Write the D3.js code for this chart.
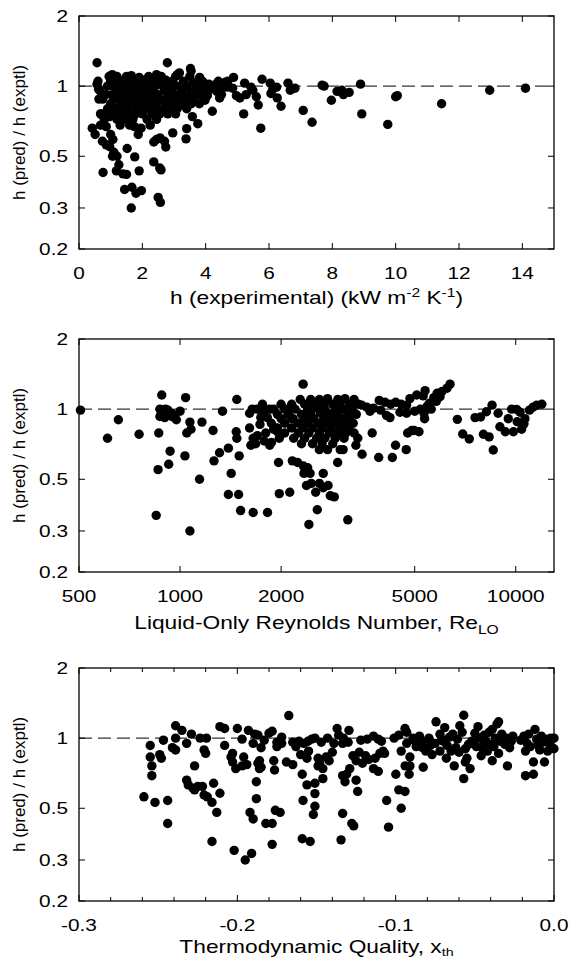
<!DOCTYPE html>
<meta charset="utf-8">
<head>
<style>
body { margin: 0; background: #fff; }
text { font-family: "Liberation Sans", Arial, sans-serif; fill: #000; }
.frame { fill: none; stroke: #000; stroke-width: 1.3px; }
.tick { stroke: #000; stroke-width: 1px; }
.unity { stroke: #333; stroke-width: 1.3px; stroke-dasharray: 13,6; }
</style>
</head>
<body>
<svg width="574" height="960"></svg>
<script src="https://cdn.jsdelivr.net/npm/d3@7"></script>
<script>
var ratioTicks = [0.2, 0.3, 0.5, 1, 2];
var hExpTicks = [0, 2, 4, 6, 8, 10, 12, 14];
var reTicks = [500, 1000, 2000, 5000, 10000];
var xthTicks = [-0.3, -0.2, -0.1, 0.0];
var xthMinor = [-0.28, -0.26, -0.24, -0.22, -0.18, -0.16, -0.14, -0.12, -0.08, -0.06, -0.04, -0.02];

// h (experimental), ratio
var hExp = [
  [0.57,1.26],[14.1,0.98],[12.97,0.96],[11.45,0.84],[10.0,0.90],[10.05,0.91],[9.75,0.685],[8.93,0.76],[8.89,1.02],
  [8.53,0.94],[8.35,0.92],[8.3,0.96],[8.15,0.95],[7.97,0.87],[7.68,1.01],[7.74,1.0],[7.36,0.70],[7.08,0.787],
  [6.82,0.98],[6.67,0.96],[6.6,1.03],[6.38,0.82],[6.26,0.89],[6.24,0.99],[6.06,0.93],[6.12,0.97],[6.04,1.03],
  [5.78,1.07],[5.74,0.66],[5.66,0.83],[5.6,0.9],[5.49,0.96],[5.43,0.99],[5.23,1.03],[5.2,0.76],[5.28,0.92],
  [5.08,0.89],[4.97,0.91],[4.88,1.09],[4.85,0.98],[4.68,0.99],[4.62,1.04],[4.44,0.89],[4.42,0.98],[4.27,0.99],
  [4.33,1.02],[4.21,0.78],[4.1,1.02],[4.04,0.92],[3.98,0.87],[3.81,1.09],[3.75,0.69],[3.58,0.74],[3.52,1.19],
  [3.54,1.16],[3.4,0.657],[3.38,0.594],[3.11,1.12],[3.17,1.14],[2.96,0.63],[2.79,1.26],[2.74,0.548],[2.56,0.60],
  [2.59,0.437],[2.55,0.445],[2.5,0.333],[2.57,0.317],[2.36,0.576],[2.36,0.473],[2.25,0.68],[1.96,0.66],[1.87,0.62],
  [1.9,0.433],[1.76,0.497],[1.67,0.368],[1.8,0.347],[1.97,0.356],[1.44,0.36],[1.65,0.30],[1.52,0.54],[1.5,0.418],
  [1.39,0.42],[1.18,0.433],[0.76,0.426],[1.26,0.46],[1.2,0.5],[1.06,0.5],[1.1,0.52],[0.97,0.55],[0.86,0.56],
  [0.74,0.58],[0.51,0.62],[0.42,0.66],[0.68,0.68],[0.74,0.75],[0.68,0.76],[0.97,0.74],[0.86,0.67],[1.0,0.62],
  [1.07,0.59],[0.57,1.02],[0.62,0.97],[0.63,0.88],[2.7,0.58],[2.45,0.59],
  [0.95,1.1],[1.05,1.12],[1.2,1.1],[1.5,1.1],[1.65,1.11],[1.9,1.09],[2.2,1.1],[2.45,1.12],[2.6,1.1],[3.05,1.1],[3.5,1.1],
  [0.6,1.05],[1.0,1.05],[1.15,1.06],[1.35,1.05],[1.7,1.05],[1.85,1.04],[2.05,1.06],[2.3,1.05],[2.55,1.05],[2.75,1.06],
  [2.95,1.05],[3.3,1.05],[3.6,1.04],[3.9,1.05],[4.4,1.05],[4.7,1.05],
  [0.9,1.0],[1.1,1.0],[1.3,1.0],[1.55,1.01],[1.75,1.0],[2.0,1.0],[2.2,1.01],[2.4,1.0],[2.65,1.0],[2.85,1.01],
  [3.1,1.0],[3.4,1.0],[3.7,1.0],[4.0,1.0],[4.25,1.0],[4.55,1.0],
  [0.65,0.96],[1.2,0.96],[1.45,0.96],[1.6,0.95],[1.95,0.96],[2.15,0.96],[2.35,0.95],[2.7,0.96],[2.9,0.96],
  [3.25,0.96],[3.55,0.95],[3.85,0.96],[4.1,0.96],[4.35,0.95],
  [0.72,0.92],[0.85,0.92],[1.05,0.92],[1.25,0.91],[1.5,0.92],[1.8,0.92],[2.05,0.91],[2.3,0.92],[2.5,0.92],
  [2.8,0.91],[3.0,0.92],[3.2,0.92],[3.45,0.91],[3.75,0.92],[4.05,0.91],[4.5,0.92],
  [0.75,0.88],[1.1,0.88],[1.4,0.88],[1.65,0.87],[1.9,0.88],[2.1,0.88],[2.4,0.88],[2.6,0.87],[2.9,0.88],
  [3.15,0.88],[3.35,0.87],[3.6,0.88],[3.95,0.88],
  [1.0,0.84],[1.3,0.84],[1.55,0.84],[1.8,0.84],[2.0,0.83],[2.25,0.84],[2.45,0.84],[2.75,0.84],[3.05,0.84],
  [3.3,0.83],[3.55,0.84],[3.8,0.84],
  [0.9,0.8],[1.15,0.8],[1.4,0.8],[1.6,0.79],[1.85,0.8],[2.1,0.8],[2.35,0.8],[2.6,0.79],[2.85,0.8],[3.1,0.8],[3.4,0.8],
  [0.7,0.76],[1.0,0.76],[1.25,0.76],[1.5,0.76],[1.75,0.75],[2.0,0.76],[2.3,0.76],[2.55,0.76],[2.8,0.76],[3.05,0.76],
  [0.8,0.72],[1.2,0.72],[1.45,0.72],[1.7,0.72],[2.15,0.72],[2.45,0.72],
  [1.3,0.68],[1.6,0.68],[1.75,0.67]
];

// Re_LO, ratio
var reLO = [
  [505,0.99],[608,0.75],[655,0.90],[755,0.78],[864,0.79],[849,0.35],[860,0.55],[882,1.15],[871,1.0],[890,0.97],
  [871,0.93],[905,1.0],[920,0.99],[945,0.96],[965,0.92],[945,0.93],[1000,0.98],[975,0.9],[900,0.92],[934,0.66],
  [925,0.58],[1039,1.12],[1034,0.63],[1047,0.79],[1078,0.82],[1070,0.88],[1070,0.30],[1143,0.50],[1162,0.88],
  [1254,0.81],[1262,0.60],[1311,0.65],[1338,0.98],[1393,0.68],[1420,0.53],[1393,0.43],[1494,0.43],[1476,1.1],
  [1470,0.80],[1476,0.75],[1500,0.63],[1515,0.367],[1651,0.36],[1822,0.36],
  [1611,0.96],[1640,1.0],[1611,0.83],[1651,0.75],[1625,0.70],[1694,1.0],[1760,1.05],[1782,1.0],[1740,0.92],
  [1730,0.86],[1782,0.73],[1872,0.72],[1850,1.0],[1900,0.82],[1925,0.83],[1950,0.80],[1975,0.75],[1700,0.77],
  [1800,0.79],[1680,0.71],[1760,0.96],[1820,0.92],[1850,0.70],
  [1965,0.59],[1975,0.434],[2122,0.44],[2108,0.97],[2170,0.91],[2326,1.28],[2160,0.60],[2240,0.59],[2330,0.57],
  [2400,0.56],[2340,0.53],[2440,0.53],[2380,0.47],[2460,0.48],[2469,1.05],[2420,0.32],[2563,0.37],[2535,0.44],
  [2670,0.46],[2760,0.47],[2600,0.48],[2670,0.53],[2802,0.425],[2880,0.42],[2948,0.59],[3160,0.335],[3060,0.67],
  [3384,0.75],[3340,0.70],[3485,0.64],[3736,0.79],[3906,0.62],[4290,0.62],[4384,0.70],[4718,0.67],[4763,0.79],
  [4900,0.81],[4980,0.81],[5150,0.8],[5369,1.20],[6372,1.28],[5350,0.91],[5330,0.96],
  [3475,1.04],[3600,1.02],[3770,1.01],[3920,1.09],[4080,1.07],[4240,1.05],[4390,1.07],[4560,1.05],[4730,1.04],
  [4120,0.94],[4220,0.92],[4520,0.97],[4730,0.96],[3680,0.98],[3960,0.99],
  [4840,1.11],[5070,1.15],[5300,1.14],[5530,1.06],[5700,1.12],[5830,1.17],[6030,1.19],[6240,1.23],[5600,1.0],
  [5800,1.08],[5950,1.13],[5450,1.03],[5200,1.0],[5000,0.98],
  [6700,0.904],[6950,0.782],[7270,0.745],[7565,0.92],[7860,0.925],[8010,0.78],[8330,0.76],[8570,0.668],
  [8180,0.975],[8500,1.04],[8860,0.96],[8970,0.84],[9310,0.80],[9500,0.91],[9720,1.0],[10060,0.998],[10100,0.883],
  [10410,0.82],[10650,0.91],[9840,0.80],[10580,0.865],[10300,0.97],[10990,0.99],[11260,1.02],[11550,1.04],[11960,1.05],
  [2280,1.10],[2450,1.10],[2600,1.10],[2750,1.11],[2950,1.10],[3100,1.11],[3300,1.10],
  [2000,1.05],[2150,1.05],[2350,1.05],[2520,1.06],[2680,1.05],[2850,1.05],[3000,1.06],[3200,1.05],[3400,1.05],
  [1900,1.0],[2050,1.0],[2200,1.0],[2400,1.0],[2550,1.01],[2700,1.0],[2900,1.0],[3050,1.0],[3250,1.0],
  [1950,0.95],[2100,0.95],[2300,0.95],[2450,0.95],[2620,0.96],[2780,0.95],[2950,0.95],[3150,0.95],[3350,0.95],
  [2000,0.91],[2150,0.91],[2350,0.91],[2500,0.91],[2680,0.91],[2850,0.91],[3000,0.91],[3200,0.91],
  [1870,0.87],[2050,0.87],[2250,0.87],[2400,0.87],[2580,0.87],[2750,0.87],[2920,0.87],[3100,0.87],[3280,0.87],
  [1950,0.83],[2150,0.83],[2320,0.83],[2480,0.83],[2650,0.83],[2820,0.83],[3000,0.83],[3180,0.83],
  [2050,0.79],[2250,0.79],[2420,0.79],[2600,0.79],[2780,0.79],[2950,0.79],[3120,0.79],[3300,0.79],
  [2180,0.75],[2350,0.75],[2550,0.75],[2700,0.75],[2900,0.75],[3080,0.75],
  [2300,0.71],[2480,0.71],[2650,0.71],[2850,0.71],
  [2600,0.67],[2750,0.67],[3000,0.67]
];

// x_th, ratio
var xth = [
  [-0.259,0.56],[-0.255,0.93],[-0.255,0.83],[-0.254,0.76],[-0.254,0.69],[-0.252,0.53],[-0.249,0.85],[-0.248,0.82],
  [-0.2467,0.98],[-0.244,0.54],[-0.244,0.43],[-0.241,0.91],[-0.239,0.89],[-0.239,1.13],[-0.239,1.0],[-0.235,1.08],
  [-0.232,0.95],[-0.229,1.04],[-0.227,0.76],[-0.232,0.66],[-0.231,0.63],[-0.228,0.61],[-0.227,0.60],[-0.2235,1.0],
  [-0.225,0.62],[-0.222,0.62],[-0.221,0.89],[-0.220,0.86],[-0.2195,1.0],[-0.221,0.57],[-0.219,0.56],[-0.216,0.53],
  [-0.215,0.64],[-0.213,0.48],[-0.211,0.58],[-0.216,0.36],[-0.211,1.12],[-0.208,1.10],[-0.208,0.93],[-0.204,0.83],
  [-0.203,0.86],[-0.202,0.33],[-0.200,1.10],[-0.203,0.79],[-0.201,0.74],[-0.197,0.99],[-0.197,0.76],[-0.194,0.77],
  [-0.196,0.83],[-0.195,0.30],[-0.191,0.32],[-0.192,0.48],[-0.190,0.45],[-0.193,1.08],[-0.190,0.95],[-0.189,1.04],
  [-0.188,0.65],[-0.188,0.55],[-0.187,0.78],[-0.186,0.74],[-0.185,0.75],[-0.186,0.80],[-0.185,0.91],[-0.187,1.03],
  [-0.182,0.43],[-0.178,0.43],[-0.178,0.35],[-0.178,1.07],[-0.1765,0.73],[-0.177,0.80],[-0.175,0.92],[-0.175,0.96],
  [-0.172,1.01],[-0.176,0.49],[-0.173,0.48],[-0.1675,1.25],[-0.169,0.79],[-0.165,0.77],[-0.165,0.96],[-0.161,0.97],
  [-0.1554,0.97],[-0.159,0.70],[-0.1585,0.54],[-0.159,0.37],[-0.154,0.36],[-0.156,0.63],[-0.156,0.82],[-0.155,0.88],
  [-0.152,0.47],[-0.151,1.0],[-0.151,0.578],[-0.151,0.51],[-0.151,0.64],[-0.149,0.82],[-0.148,0.78],[-0.146,0.74],
  [-0.149,0.76],[-0.146,0.67],[-0.143,1.0],[-0.140,0.87],[-0.137,1.1],[-0.1335,0.475],[-0.1345,0.366],[-0.1335,0.95],
  [-0.1335,0.69],[-0.132,0.65],[-0.131,0.70],[-0.1295,1.08],[-0.129,0.74],[-0.1277,0.43],[-0.1265,0.42],[-0.125,0.66],
  [-0.124,0.59],[-0.122,0.98],[-0.123,0.87],[-0.121,0.78],[-0.118,0.99],[-0.114,1.02],[-0.111,0.99],[-0.109,0.97],
  [-0.108,0.88],[-0.110,0.86],[-0.113,0.82],[-0.114,0.74],[-0.111,0.72],[-0.1057,0.54],[-0.1045,0.415],[-0.107,0.86],
  [-0.101,1.0],[-0.0999,0.70],[-0.098,0.60],[-0.0941,0.59],[-0.0965,0.50],[-0.0941,1.1],[-0.093,1.06],[-0.0965,0.88],
  [-0.093,0.95],[-0.091,0.83],[-0.094,0.76],[-0.091,0.76],[-0.0915,0.70],[-0.0884,0.98],[-0.085,1.02],[-0.083,0.97],
  [-0.0826,0.75],[-0.081,0.88],[-0.077,0.85],[-0.0745,1.175],[-0.072,1.04],[-0.070,0.97],[-0.069,1.11],[-0.0675,0.93],
  [-0.065,0.88],[-0.063,0.76],[-0.061,0.99],[-0.0595,1.13],[-0.058,1.06],[-0.057,1.254],[-0.057,0.67],[-0.056,0.79],
  [-0.055,0.82],[-0.053,0.74],[-0.054,0.94],[-0.052,0.97],[-0.049,0.92],[-0.048,1.12],[-0.047,1.0],[-0.044,1.03],
  [-0.042,0.88],[-0.040,0.94],[-0.039,1.09],[-0.037,1.0],[-0.036,1.15],[-0.035,1.175],[-0.039,0.80],[-0.035,0.86],
  [-0.034,0.97],[-0.031,0.94],[-0.0294,0.76],[-0.027,0.97],[-0.019,1.02],[-0.018,0.88],[-0.017,0.95],[-0.018,0.69],
  [-0.013,0.70],[-0.013,0.79],[-0.012,1.09],[-0.011,0.99],[-0.010,0.93],[-0.009,0.89],[-0.006,0.79],[-0.005,0.99],
  [-0.003,0.95],[0.0,1.0],[0.0,0.90],[-0.008,1.02],
  [-0.098,1.03],[-0.087,0.92],[-0.079,1.0],[-0.075,0.95],[-0.066,1.01],[-0.062,0.91],[-0.060,0.87],[-0.050,1.05],
  [-0.045,0.90],[-0.043,0.97],[-0.041,1.06],[-0.033,1.04],[-0.030,1.0],[-0.028,0.91],[-0.015,0.92],[-0.007,0.96],
  [-0.004,0.88],[-0.046,0.84],[-0.068,0.82],[-0.072,0.88],
  [-0.183,0.98],[-0.180,1.05],[-0.172,0.95],[-0.163,0.92],[-0.160,0.85],[-0.158,0.95],[-0.153,0.99],[-0.147,0.96],
  [-0.144,0.83],[-0.142,0.80],[-0.139,0.95],[-0.136,1.03],[-0.133,1.0],[-0.130,0.96],[-0.127,0.84],[-0.125,0.80],
  [-0.119,0.84],[-0.117,0.81],
  [-0.089,1.0],[-0.078,0.93],[-0.071,0.99],[-0.064,1.04],[-0.051,0.95],[-0.038,0.92],[-0.026,1.02],[-0.021,0.98],
  [-0.016,1.04],[-0.002,1.0],[-0.044,0.96],[-0.056,0.90],[-0.083,0.91]
];

var svg = d3.select("svg"),
    left = 79, right = 554, ph = 233,
    sx = 1.3; // the lettering of the original is wide

var panels = [
  {top: 16, data: hExp, x: d3.scaleLinear().domain([0, 15]),
   ticks: hExpTicks, minor: [], fmt: d3.format("d")},
  {top: 339, data: reLO, x: d3.scaleLog().domain([500, 13000]),
   ticks: reTicks, minor: [], fmt: d3.format("d")},
  {top: 668, data: xth, x: d3.scaleLinear().domain([-0.3, 0]),
   ticks: xthTicks, minor: xthMinor, fmt: function(v) { return d3.format(".1f")(v).replace("\u2212", "-"); }}
];

function label(sel, x, y, anchor, size) {
  return sel.append("text")
      .attr("transform", "translate(" + x + "," + y + ")scale(" + sx + ",1)")
      .attr("text-anchor", anchor)
      .style("font-size", size + "px");
}

panels.forEach(function(p) {
  p.x.range([left, right]);
  var y = d3.scaleLog().domain([0.2, 2]).range([p.top + ph, p.top]);
  var g = svg.append("g");

  g.append("line")
      .attr("class", "unity")
      .attr("x1", left).attr("x2", right)
      .attr("y1", y(1)).attr("y2", y(1));

  // ticks drawn inward on all four sides
  ratioTicks.forEach(function(t) {
    g.append("line").attr("class", "tick")
        .attr("x1", left).attr("x2", left + 6).attr("y1", y(t)).attr("y2", y(t));
    g.append("line").attr("class", "tick")
        .attr("x1", right - 6).attr("x2", right).attr("y1", y(t)).attr("y2", y(t));
    label(g, left - 11, y(t), "end", 16)
        .attr("dy", "0.35em")
        .text(t);
  });

  p.ticks.concat(p.minor).forEach(function(t) {
    var len = p.minor.indexOf(t) >= 0 ? 4 : 6;
    g.append("line").attr("class", "tick")
        .attr("x1", p.x(t)).attr("x2", p.x(t)).attr("y1", p.top + ph).attr("y2", p.top + ph - len);
    g.append("line").attr("class", "tick")
        .attr("x1", p.x(t)).attr("x2", p.x(t)).attr("y1", p.top).attr("y2", p.top + len);
  });

  p.ticks.forEach(function(t) {
    label(g, p.x(t), p.top + ph + 24, "middle", 16)
        .attr("dy", "0.35em")
        .text(p.fmt(t));
  });

  g.selectAll("circle")
      .data(p.data)
    .enter().append("circle")
      .attr("cx", function(d) { return p.x(d[0]); })
      .attr("cy", function(d) { return y(d[1]); })
      .attr("r", 4.7)
      .style("fill", "#000");

  g.append("rect")
      .attr("class", "frame")
      .attr("x", left).attr("y", p.top)
      .attr("width", right - left).attr("height", ph);

  g.append("text")
      .attr("transform", "translate(19," + (p.top + ph / 2) + ")rotate(-90)")
      .attr("text-anchor", "middle")
      .attr("dy", "0.35em")
      .style("font-size", "17px")
      .text("h (pred) / h (exptl)");
});

var cx = (left + right) / 2;

var t1 = label(svg, cx, 16 + ph + 55, "middle", 17.5);
t1.append("tspan").text("h (experimental) (kW m");
t1.append("tspan").attr("dy", -7).style("font-size", "12px").text("-2");
t1.append("tspan").attr("dy", 7).text(" K");
t1.append("tspan").attr("dy", -7).style("font-size", "12px").text("-1");
t1.append("tspan").attr("dy", 7).text(")");

var t2 = label(svg, cx, 339 + ph + 57, "middle", 17.5);
t2.append("tspan").text("Liquid-Only Reynolds Number, Re");
t2.append("tspan").attr("dy", 5).style("font-size", "12px").text("LO");

var t3 = label(svg, cx, 668 + ph + 52, "middle", 17.5);
t3.append("tspan").text("Thermodynamic Quality, x");
t3.append("tspan").attr("dy", 3).style("font-size", "11px").text("th");
</script>
</body>
</html>
